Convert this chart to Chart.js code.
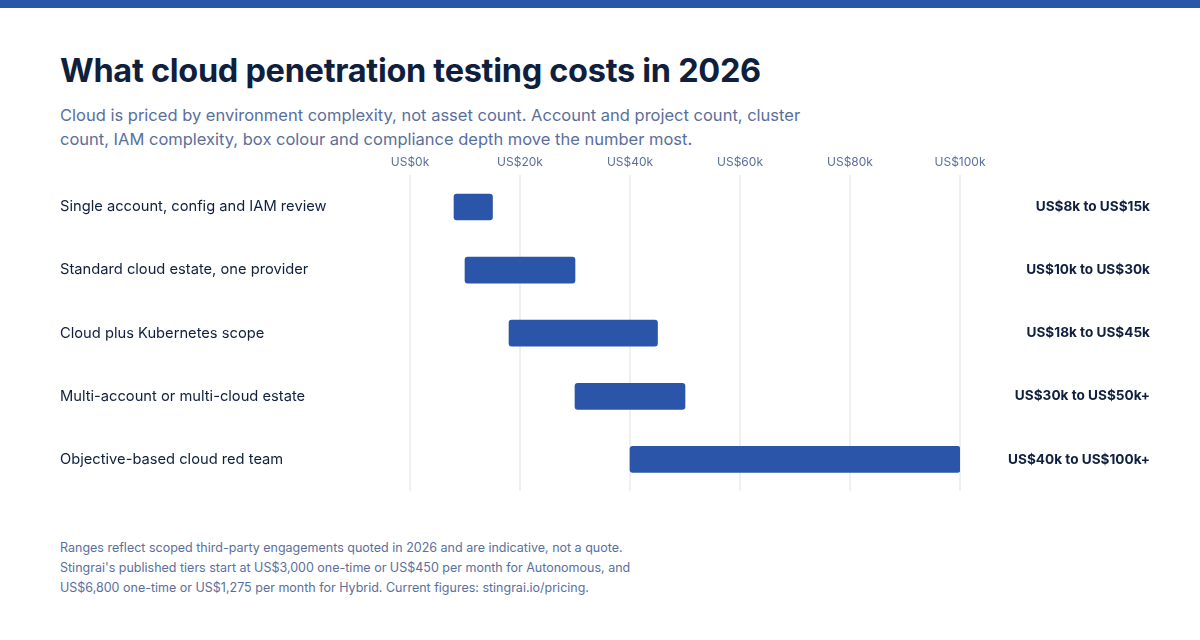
<!DOCTYPE html>
<html>
<head>
<meta charset="utf-8">
<script src="https://cdn.jsdelivr.net/npm/chart.js@4"></script>
<style>
  body { margin: 0; width: 1200px; height: 640px; background: #fff; font-family: Inter, "Noto Sans", sans-serif; position: relative; overflow: hidden; }
  .topbar { position: absolute; left: 0; top: 0; width: 1200px; height: 8px; background: #2b55a8; }
  h1 { position: absolute; left: 60px; top: 51px; margin: 0; font-size: 32.5px; font-weight: 700; color: #0f1f3d; letter-spacing: -0.3px; }
  .sub { position: absolute; left: 60px; top: 103px; width: 760px; font-size: 16.5px; line-height: 24px; color: #5a6f9c; }
  .foot { position: absolute; left: 60px; top: 538px; width: 620px; font-size: 12.5px; line-height: 20px; color: #5a6f9c; }
  #wrap { position: absolute; left: 0; top: 145px; width: 1200px; height: 354px; }
</style>
</head>
<body>
<div class="topbar"></div>
<h1>What cloud penetration testing costs in 2026</h1>
<div class="sub">Cloud is priced by environment complexity, not asset count. Account and project count, cluster count, IAM complexity, box colour and compliance depth move the number most.</div>
<div id="wrap"><canvas id="c"></canvas></div>
<div class="foot">Ranges reflect scoped third-party engagements quoted in 2026 and are indicative, not a quote. Stingrai's published tiers start at US$3,000 one-time or US$450 per month for Autonomous, and US$6,800 one-time or US$1,275 per month for Hybrid. Current figures: stingrai.io/pricing.</div>
<script>
const categorias = [
  "Single account, config and IAM review",
  "Standard cloud estate, one provider",
  "Cloud plus Kubernetes scope",
  "Multi-account or multi-cloud estate",
  "Objective-based cloud red team"
];
const desde = [8, 10, 18, 30, 40];
const hasta = [15, 30, 45, 50, 100];
const etiquetasRango = [
  "US$8k to US$15k",
  "US$10k to US$30k",
  "US$18k to US$45k",
  "US$30k to US$50k+",
  "US$40k to US$100k+"
];

const etiquetasPlugin = {
  id: 'etiquetas',
  afterDraw(chart) {
    const ctx = chart.ctx;
    const y = chart.scales.y;
    ctx.save();
    ctx.textBaseline = 'middle';
    categorias.forEach((cat, i) => {
      const py = y.getPixelForValue(i);
      ctx.font = '14.7px Inter, "Noto Sans", sans-serif';
      ctx.fillStyle = '#0f1f3d';
      ctx.textAlign = 'left';
      ctx.fillText(cat, 60, py);
      ctx.font = 'bold 13.6px Inter, "Noto Sans", sans-serif';
      ctx.textAlign = 'right';
      ctx.fillText(etiquetasRango[i], 1150, py);
    });
    ctx.restore();
  }
};

new Chart(document.getElementById('c'), {
  type: 'bar',
  data: {
    labels: categorias,
    datasets: [{
      data: desde.map((d, i) => [d, hasta[i]]),
      backgroundColor: '#2b55a8',
      borderRadius: 3,
      borderSkipped: false,
      barThickness: 26
    }]
  },
  options: {
    indexAxis: 'y',
    responsive: true,
    maintainAspectRatio: false,
    animation: false,
    layout: { padding: { left: 410, right: 240, top: 4, bottom: 8 } },
    scales: {
      x: {
        position: 'top',
        min: 0,
        max: 100,
        ticks: {
          stepSize: 20,
          color: '#5a6f9c',
          font: { size: 12, family: 'Inter, "Noto Sans", sans-serif' },
          padding: 6,
          callback: v => 'US$' + v + 'k'
        },
        grid: { color: '#eef0f4', lineWidth: 2, drawTicks: false },
        border: { display: false }
      },
      y: { display: false }
    },
    plugins: { legend: { display: false }, tooltip: { enabled: false } }
  },
  plugins: [etiquetasPlugin]
});
</script>
</body>
</html>
